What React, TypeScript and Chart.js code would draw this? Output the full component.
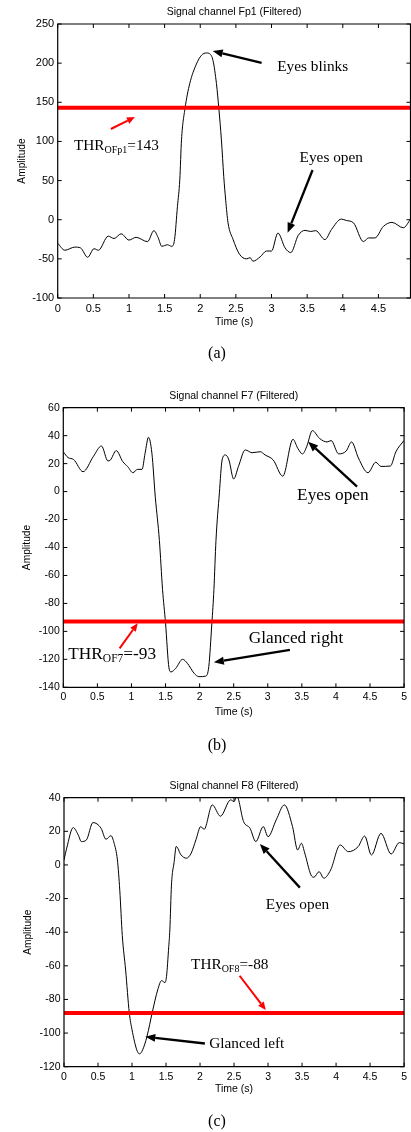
import React, { useEffect, useRef } from "react";
import { Chart, registerables } from "chart.js";

Chart.register(...registerables);

// ---------- Panel (a): Fp1 ----------
const timeFp1 = [0, 0.1, 0.24, 0.32, 0.42, 0.51, 0.57, 0.71, 0.79, 0.89, 1.0, 1.1, 1.26, 1.35, 1.41, 1.46, 1.54, 1.6, 1.64, 1.68, 1.713, 1.737, 1.787, 1.853, 1.947, 2.017, 2.087, 2.133, 2.18, 2.227, 2.263, 2.297, 2.33, 2.357, 2.39, 2.46, 2.55, 2.65, 2.7, 2.74, 2.84, 2.93, 3.0, 3.09, 3.19, 3.27, 3.375, 3.47, 3.55, 3.62, 3.75, 3.84, 3.98, 4.05, 4.15, 4.29, 4.36, 4.45, 4.57, 4.69, 4.85, 4.95];
const ampFp1 = [-30, -39, -35, -36, -48, -37, -39, -21, -24, -18, -26, -22.5, -28, -14, -23, -34, -32, -34, -25, 17, 51, 102, 142.5, 174, 199, 210, 213, 212, 203, 174, 140, 102, 55, 25, -4, -25, -44, -50, -48.5, -53, -47.5, -40, -40, -17, -36, -42, -20, -13.6, -15, -14, -25.4, -12.7, 0.8, -1, -4, -28, -23.3, -23.3, -8.5, -3.4, -10.3, 0.5];
const thrFp1 = 143;

// ---------- Panel (b): F7 ----------
const timeF7 = [0, 0.07, 0.15, 0.29, 0.44, 0.56, 0.655, 0.69, 0.777, 0.873, 0.946, 1.02, 1.09, 1.155, 1.2, 1.25, 1.3, 1.35, 1.41, 1.456, 1.5, 1.55, 1.58, 1.65, 1.75, 1.82, 1.92, 1.99, 2.09, 2.135, 2.18, 2.21, 2.24, 2.29, 2.33, 2.38, 2.43, 2.5, 2.57, 2.67, 2.77, 2.89, 2.96, 3.08, 3.22, 3.37, 3.44, 3.51, 3.57, 3.655, 3.76, 3.87, 3.93, 4.04, 4.15, 4.23, 4.33, 4.47, 4.585, 4.66, 4.8, 4.88, 5.0];
const ampF7 = [28.5, 24.3, 23, 14.2, 25, 32.6, 21.9, 22.5, 29.3, 21.4, 17.8, 13.5, 15.9, 15.9, 27.4, 38.8, 27.4, -4, -35, -70, -94, -126, -129, -126.4, -120, -122.8, -130, -132.4, -132, -125, -94, -70, -35, -1, 22.6, 26.2, 22.6, 9, 18, 29.8, 27.8, 28.5, 26.2, 22.6, 11, 37.4, 31, 26.9, 32, 43.6, 38, 35.5, 36.5, 27, 29, 35.5, 24, 13.5, 21, 18, 18.3, 28.5, 36.6];
const thrF7 = -93;

// ---------- Panel (c): F8 ----------
const timeF8 = [0, 0.04, 0.135, 0.21, 0.255, 0.33, 0.425, 0.545, 0.617, 0.69, 0.737, 0.785, 0.82, 0.857, 0.906, 0.96, 1.0, 1.07, 1.11, 1.156, 1.22, 1.3, 1.377, 1.435, 1.484, 1.507, 1.54, 1.556, 1.58, 1.62, 1.65, 1.72, 1.8, 1.87, 1.94, 2.01, 2.06, 2.18, 2.3, 2.45, 2.5, 2.54, 2.64, 2.735, 2.82, 2.93, 3.0, 3.12, 3.24, 3.36, 3.435, 3.49, 3.54, 3.63, 3.675, 3.75, 3.82, 3.92, 4.06, 4.18, 4.325, 4.42, 4.52, 4.66, 4.81, 4.93, 5.0];
const ampF8 = [3, 10, 22.2, 17.8, 13.9, 14.9, 25.2, 21.8, 15.3, 17.4, 12.9, 3, -15, -42, -62.5, -88, -98, -110, -112.4, -110, -102, -87.3, -74.4, -68.8, -70, -66.4, -48.6, -38.7, -12, 2, 11, 6, 4, 7, 15, 22.8, 21.2, 35.7, 29, 38.7, 37.7, 41, 25.8, 21.8, 13.9, 22.8, 16.8, 26.8, 35.7, 22.8, 8.9, 12.9, 7, -5.9, -7.3, -4, -7.9, -3, 11.9, 7.9, 10.9, 17.2, 5.9, 18.8, 6.5, 13.3, 12.5];
const thrF8 = -88;

// ---------- Tick values ----------
const xTicksA = [0, 0.5, 1, 1.5, 2, 2.5, 3, 3.5, 4, 4.5];
const xTicksBC = [0, 0.5, 1, 1.5, 2, 2.5, 3, 3.5, 4, 4.5, 5];
const yTicksA = [-100, -50, 0, 50, 100, 150, 200, 250];
const yTicksB = [-140, -120, -100, -80, -60, -40, -20, 0, 20, 40, 60];
const yTicksC = [-120, -100, -80, -60, -40, -20, 0, 20, 40];

// ---------- Titles / captions ----------
const titles = ["Signal channel Fp1 (Filtered)", "Signal channel F7 (Filtered)", "Signal channel F8 (Filtered)"];
const captions = ["(a)", "(b)", "(c)"];
const xAxisLabel = "Time (s)";
const yAxisLabel = "Amplitude";

const SANS = "Arial, 'Liberation Sans', Helvetica, sans-serif";
const SERIF = "'Times New Roman', 'Liberation Serif', Times, serif";

type Part = [string, boolean];
type Note = { parts: Part[]; x: number; y: number };
type Arrow = { from: [number, number]; to: [number, number]; color: string };

const notesA: Note[] = [
  { parts: [["Eyes blinks", false]], x: 3.08, y: 190 },
  { parts: [["THR", false], ["OFp1", true], ["=143", false]], x: 0.228, y: 89 },
  { parts: [["Eyes open", false]], x: 3.394, y: 73.3 },
];
const arrowsA: Arrow[] = [
  { from: [2.861, 200.2], to: [2.175, 215.5], color: "#000" },
  { from: [0.746, 115.9], to: [1.083, 131.2], color: "#ff0000" },
  { from: [3.576, 63.5], to: [3.226, -16.6], color: "#000" },
];
const notesB: Note[] = [
  { parts: [["Eyes open", false]], x: 3.43, y: -6 },
  { parts: [["Glanced right", false]], x: 2.72, y: -108.5 },
  { parts: [["THR", false], ["OF7", true], ["=-93", false]], x: 0.073, y: -120 },
];
const arrowsB: Arrow[] = [
  { from: [4.31, 3.5], to: [3.592, 35.7], color: "#000" },
  { from: [3.325, -113.3], to: [2.209, -122.1], color: "#000" },
  { from: [0.826, -112.1], to: [1.092, -94.2], color: "#ff0000" },
];
const notesC: Note[] = [
  { parts: [["Eyes open", false]], x: 2.967, y: -26.4 },
  { parts: [["THR", false], ["OF8", true], ["=-88", false]], x: 1.868, y: -61.9 },
  { parts: [["Glanced left", false]], x: 2.134, y: -108.6 },
];
const arrowsC: Arrow[] = [
  { from: [3.468, -13.5], to: [2.88, 12.5], color: "#000" },
  { from: [2.582, -65.9], to: [2.967, -86.3], color: "#ff0000" },
  { from: [2.071, -106.2], to: [1.195, -102.2], color: "#000" },
];

type PanelCfg = {
  top: number;
  h: number;
  plot: { left: number; right: number; top: number; bottom: number };
  time: number[];
  amp: number[];
  thr: number;
  xMax: number;
  yMin: number;
  yMax: number;
  xTicks: number[];
  yTicks: number[];
  tickSize: number;
  title: string;
  caption: string;
  captionY: number;
  notes: Note[];
  arrows: Arrow[];
  noteSize: number;
  subSize: number;
  xLabelGap: number;
};

const W = 411;

const panels: PanelCfg[] = [
  {
    top: 0, h: 365,
    plot: { left: 57.7, right: 410.5, top: 24, bottom: 298 },
    time: timeFp1, amp: ampFp1, thr: thrFp1,
    xMax: 4.95, yMin: -100, yMax: 250, xTicks: xTicksA, yTicks: yTicksA, tickSize: 11,
    title: titles[0], caption: captions[0], captionY: 353,
    notes: notesA, arrows: arrowsA, noteSize: 15.3, subSize: 10, xLabelGap: 24.5,
  },
  {
    top: 365, h: 395,
    plot: { left: 63.3, right: 406.7, top: 42.7, bottom: 322.3 },
    time: timeF7, amp: ampF7, thr: thrF7,
    xMax: 5, yMin: -140, yMax: 60, xTicks: xTicksBC, yTicks: yTicksB, tickSize: 10.5,
    title: titles[1], caption: captions[1], captionY: 744.5,
    notes: notesB, arrows: arrowsB, noteSize: 17.3, subSize: 11.5, xLabelGap: 24.4,
  },
  {
    top: 760, h: 372,
    plot: { left: 64, right: 410, top: 37.7, bottom: 306.7 },
    time: timeF8, amp: ampF8, thr: thrF8,
    xMax: 5, yMin: -120, yMax: 40, xTicks: xTicksBC, yTicks: yTicksC, tickSize: 10.5,
    title: titles[2], caption: captions[2], captionY: 1121,
    notes: notesC, arrows: arrowsC, noteSize: 15.3, subSize: 10, xLabelGap: 22.5,
  },
];

function fmt(v: number) {
  return String(Math.round(v * 10) / 10);
}

function drawArrow(ctx: CanvasRenderingContext2D, x1: number, y1: number, x2: number, y2: number, color: string, lw: number, headLen: number, headW: number) {
  const ang = Math.atan2(y2 - y1, x2 - x1);
  const bx = x2 - headLen * Math.cos(ang);
  const by = y2 - headLen * Math.sin(ang);
  ctx.strokeStyle = color;
  ctx.fillStyle = color;
  ctx.lineWidth = lw;
  ctx.beginPath();
  ctx.moveTo(x1, y1);
  ctx.lineTo(bx, by);
  ctx.stroke();
  const nx = -Math.sin(ang) * headW / 2;
  const ny = Math.cos(ang) * headW / 2;
  ctx.beginPath();
  ctx.moveTo(x2, y2);
  ctx.lineTo(bx + nx, by + ny);
  ctx.lineTo(bx - nx, by - ny);
  ctx.closePath();
  ctx.fill();
}

function makeDecor(cfg: PanelCfg) {
  return {
    id: "decor",
    afterDraw(chart: any) {
      const { ctx, chartArea: ca } = chart;
      const xs = chart.scales.x;
      const ys = chart.scales.y;
      ctx.save();
      // box
      ctx.strokeStyle = "#000";
      ctx.lineWidth = 1.2;
      ctx.beginPath();
      ctx.rect(ca.left, ca.top, ca.right - ca.left, ca.bottom - ca.top);
      ctx.stroke();
      // inward ticks
      ctx.lineWidth = 1;
      ctx.beginPath();
      for (const t of xs.ticks) {
        const p = xs.getPixelForValue(t.value);
        ctx.moveTo(p, ca.bottom);
        ctx.lineTo(p, ca.bottom - 4);
        ctx.moveTo(p, ca.top);
        ctx.lineTo(p, ca.top + 4);
      }
      for (const t of ys.ticks) {
        const p = ys.getPixelForValue(t.value);
        ctx.moveTo(ca.left, p);
        ctx.lineTo(ca.left + 4, p);
        ctx.moveTo(ca.right, p);
        ctx.lineTo(ca.right - 4, p);
      }
      ctx.stroke();
      // title & axis labels
      const cx = (ca.left + ca.right) / 2;
      ctx.fillStyle = "#000";
      ctx.font = `10.5px ${SANS}`;
      ctx.textAlign = "center";
      ctx.textBaseline = "middle";
      ctx.fillText(cfg.title, cx, ca.top - 11.5);
      ctx.fillText(xAxisLabel, cx, ca.bottom + cfg.xLabelGap);
      ctx.save();
      ctx.translate(ca.left - 36, (ca.top + ca.bottom) / 2);
      ctx.rotate(-Math.PI / 2);
      ctx.font = `10.2px ${SANS}`;
      ctx.fillText(yAxisLabel, 0, 0);
      ctx.restore();
      // arrows
      for (const a of cfg.arrows) {
        const x1 = xs.getPixelForValue(a.from[0]);
        const y1 = ys.getPixelForValue(a.from[1]);
        const x2 = xs.getPixelForValue(a.to[0]);
        const y2 = ys.getPixelForValue(a.to[1]);
        const red = a.color !== "#000";
        drawArrow(ctx, x1, y1, x2, y2, a.color, red ? 2 : 2.3, red ? 8 : 10, red ? 7 : 8);
      }
      // notes
      ctx.textAlign = "left";
      ctx.textBaseline = "alphabetic";
      ctx.fillStyle = "#000";
      for (const n of cfg.notes) {
        let x = xs.getPixelForValue(n.x);
        const y = ys.getPixelForValue(n.y);
        for (const [txt, sub] of n.parts) {
          ctx.font = `${sub ? cfg.subSize : cfg.noteSize}px ${SERIF}`;
          ctx.fillText(txt, x, sub ? y + 3 : y);
          x += ctx.measureText(txt).width;
        }
      }
      ctx.restore();
    },
  };
}

function Panel({ cfg }: { cfg: PanelCfg }) {
  const ref = useRef<HTMLCanvasElement>(null);
  useEffect(() => {
    const canvas = ref.current!;
    const p = cfg.plot;
    const chart = new Chart(canvas, {
      type: "line",
      data: {
        datasets: [
          {
            label: "threshold",
            data: [
              { x: 0, y: cfg.thr },
              { x: cfg.xMax, y: cfg.thr },
            ],
            borderColor: "#ff0000",
            borderWidth: 4,
            pointRadius: 0,
            order: 0,
          },
          {
            label: "signal",
            data: cfg.time.map((t, i) => ({ x: t, y: cfg.amp[i] })),
            borderColor: "#000",
            borderWidth: 1,
            pointRadius: 0,
            cubicInterpolationMode: "monotone",
            order: 1,
          },
        ],
      },
      options: {
        responsive: false,
        maintainAspectRatio: false,
        animation: false,
        devicePixelRatio: 1,
        events: [],
        layout: { padding: { top: p.top, right: W - p.right, left: 0, bottom: 0 } },
        plugins: {
          legend: { display: false },
          tooltip: { enabled: false },
          title: { display: false },
        },
        scales: {
          x: {
            type: "linear",
            min: 0,
            max: cfg.xMax,
            grid: { display: false, drawTicks: false, tickLength: 0 },
            border: { display: false },
            afterFit: (s: any) => {
              s.height = cfg.h - p.bottom;
            },
            afterBuildTicks: (s: any) => {
              s.ticks = cfg.xTicks.map((v) => ({ value: v }));
            },
            ticks: {
              autoSkip: false,
              maxRotation: 0,
              minRotation: 0,
              padding: 4,
              color: "#000",
              font: { family: SANS, size: cfg.tickSize },
              callback: (v: any) => fmt(Number(v)),
            },
          },
          y: {
            type: "linear",
            min: cfg.yMin,
            max: cfg.yMax,
            grid: { display: false, drawTicks: false, tickLength: 0 },
            border: { display: false },
            afterFit: (s: any) => {
              s.width = p.left;
            },
            afterBuildTicks: (s: any) => {
              s.ticks = cfg.yTicks.map((v) => ({ value: v }));
            },
            ticks: {
              autoSkip: false,
              padding: 3.5,
              color: "#000",
              font: { family: SANS, size: cfg.tickSize },
              callback: (v: any) => fmt(Number(v)),
            },
          },
        },
      },
      plugins: [makeDecor(cfg)],
    } as any);
    return () => chart.destroy();
  }, [cfg]);
  return (
    <canvas
      ref={ref}
      width={W}
      height={cfg.h}
      style={{ position: "absolute", left: 0, top: cfg.top, width: W, height: cfg.h, display: "block" }}
    />
  );
}

export default function App() {
  return (
    <div style={{ position: "absolute", left: 0, top: 0, width: W, height: 1132, background: "#fff", overflow: "hidden" }}>
      {panels.map((cfg, i) => (
        <Panel key={i} cfg={cfg} />
      ))}
      {panels.map((cfg, i) => (
        <div
          key={"c" + i}
          style={{
            position: "absolute",
            left: 187,
            width: 60,
            top: cfg.captionY - 10,
            height: 20,
            lineHeight: "20px",
            textAlign: "center",
            fontFamily: SERIF,
            fontSize: 16,
            color: "#000",
          }}
        >
          {cfg.caption}
        </div>
      ))}
    </div>
  );
}
